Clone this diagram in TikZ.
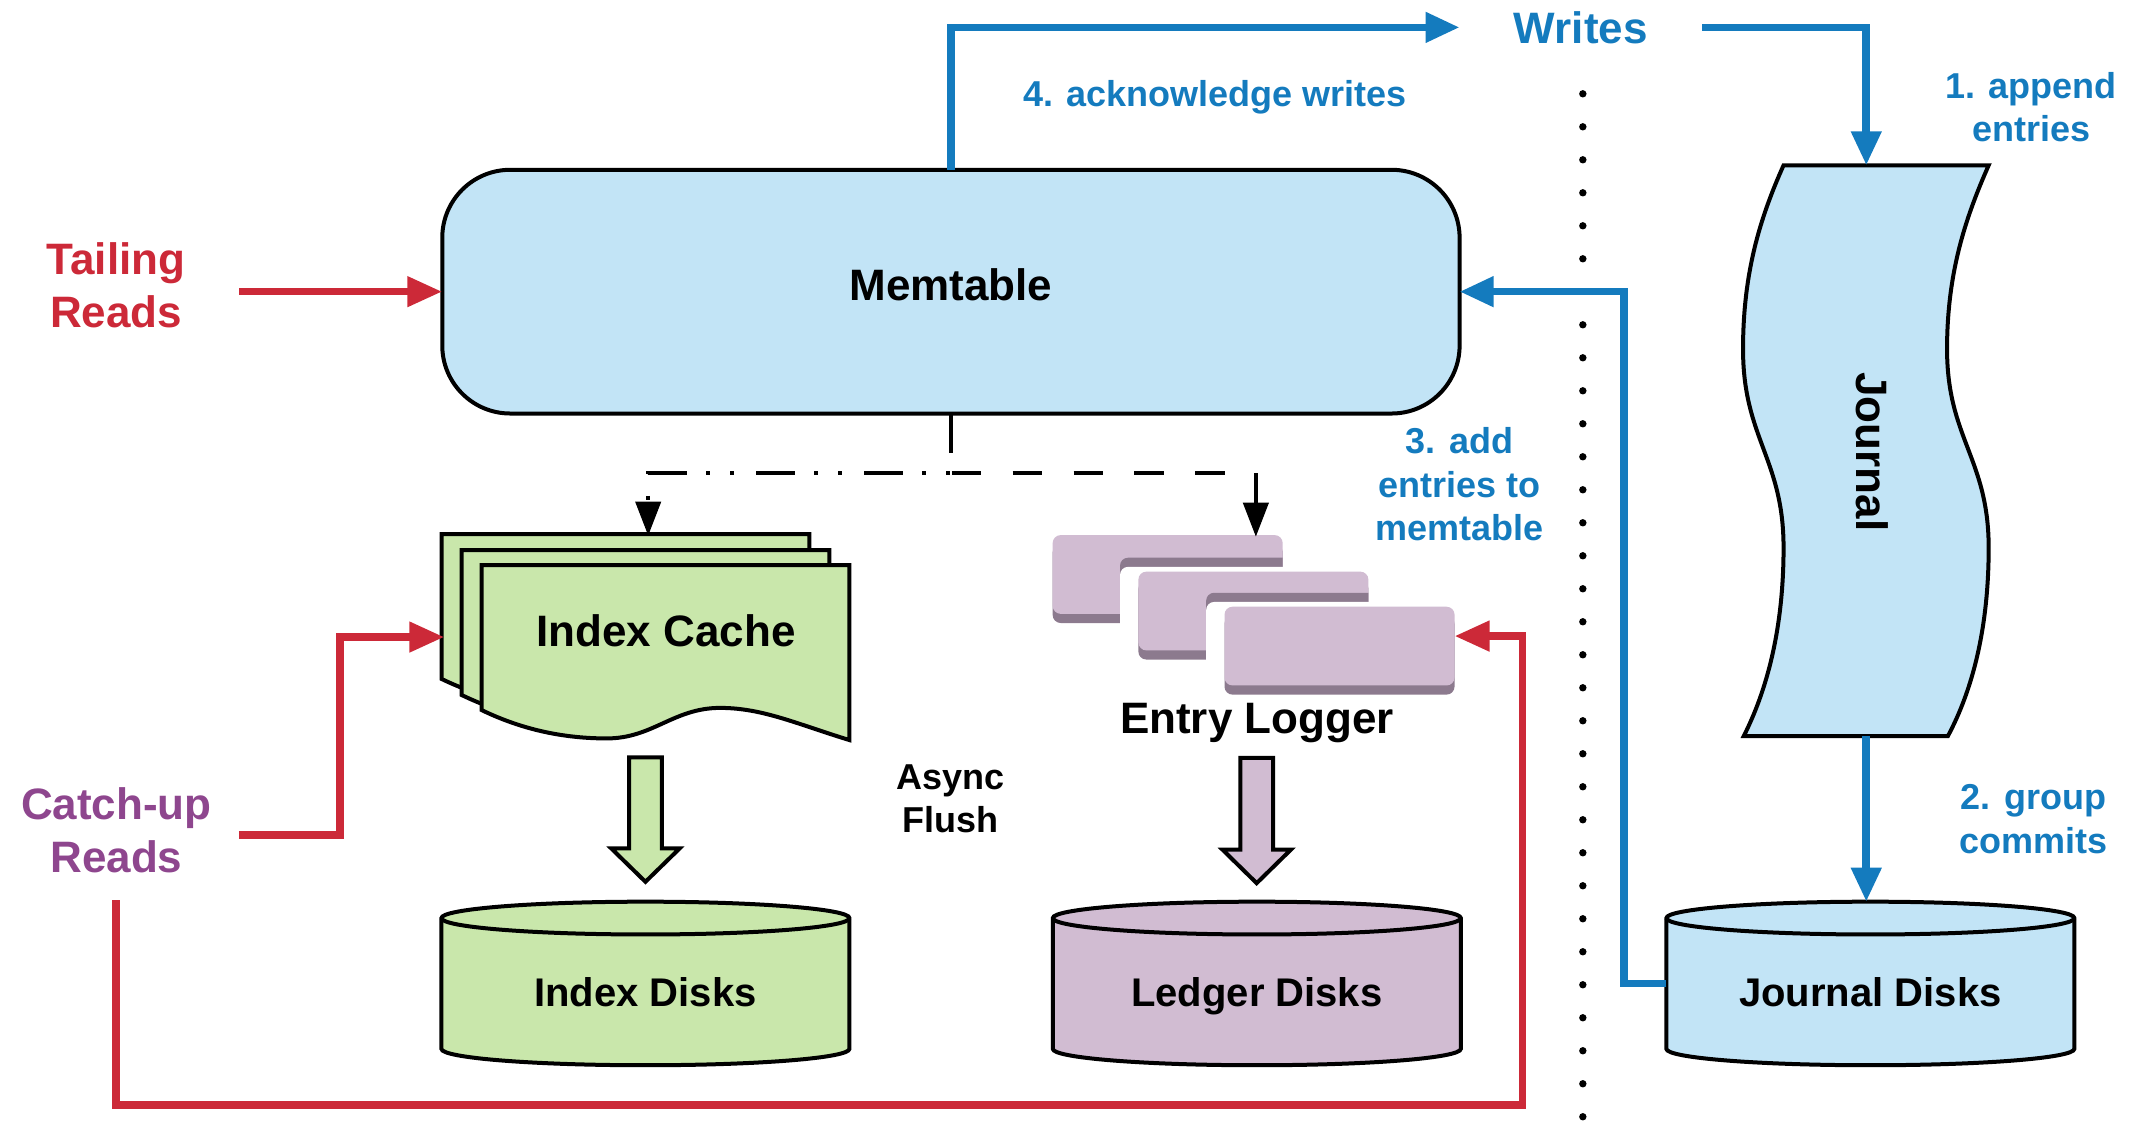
\documentclass[tikz,border=0pt]{standalone}
\usepackage{fontspec}
\setmainfont{Liberation Sans}
\usetikzlibrary{arrows.meta}
\definecolor{memblue}{RGB}{194,228,246}
\definecolor{idxgreen}{RGB}{201,231,171}
\definecolor{logmauve}{RGB}{209,188,210}
\definecolor{loglipc}{RGB}{140,122,142}
\definecolor{wblue}{RGB}{20,123,190}
\definecolor{rred}{RGB}{204,41,56}
\definecolor{cpurple}{RGB}{142,70,142}
\newcommand\pxu{0.6846pt}
\newcommand\diskshape[2]{%
  \filldraw[outl, fill=#2] (#1,670.5) -- (#1,766) arc[start angle=180,end angle=360,x radius=102pt,y radius=8.2pt] -- ++(0,-95.5) arc[start angle=0,end angle=180,x radius=102pt,y radius=8.2pt] -- cycle;
  \draw[outl] (#1,670.5) arc[start angle=180,end angle=360,x radius=102pt,y radius=8.2pt];}
\tikzset{
  bigtxt/.style={font=\fontsize{22pt}{26.7pt}\selectfont\bfseries, align=center, inner sep=0pt},
  lbltxt/.style={font=\fontsize{18pt}{21.9pt}\selectfont\bfseries, align=center, inner sep=0pt, text=wblue},
  disktxt/.style={font=\fontsize{20pt}{24pt}\selectfont\bfseries, inner sep=0pt},
  hidden/.style={inner sep=0pt, outer sep=0pt},
  outl/.style={draw=black, line width=2pt},
  bluearrow/.style={draw=wblue, line width=3.8pt, -{Triangle[length=17pt,width=14.5pt]}},
  redarrow/.style={draw=rred, line width=3.8pt, -{Triangle[length=17.5pt,width=14.5pt]}},
  flowline/.style={draw=black, line width=2pt},
  flowtip/.style={draw=black, fill=black, line width=0.5pt, solid},
  dashdotdot/.style={dash pattern=on 19.5pt off 11pt on 2pt off 10pt on 2pt off 9.5pt},
  longdash/.style={dash pattern=on 14.7pt off 15.7pt},
  logface/.style={fill=logmauve, rounded corners=4pt},
  loglip/.style={fill=loglipc, rounded corners=4pt},
}
\begin{document}
\begin{tikzpicture}[x=0.6846pt, y=-0.6846pt, line join=miter]
\useasboundingbox (0,0) rectangle (1560,830.5);

% ---------- Memtable
\node[outl, fill=memblue, rounded corners=34pt, minimum width=743*\pxu, minimum height=178*\pxu, hidden] (mem) at (694.5,213) {};
\node[bigtxt] (memlbl) at (694.5,208.2) {Memtable};

% ---------- Journal
\filldraw[outl, fill=memblue] (1302.6,120.7) -- (1452.4,120.7)
  .. controls (1435,160) and (1422,200) .. (1422,255)
  .. controls (1422,320) and (1452.4,335) .. (1452.4,400)
  .. controls (1452.4,460) and (1440,505) .. (1422.6,537.6)
  -- (1273.5,537.6)
  .. controls (1290,505) and (1302.6,460) .. (1302.6,400)
  .. controls (1302.6,335) and (1273,320) .. (1273,255)
  .. controls (1273,200) and (1285,160) .. (1302.6,120.7) -- cycle;
\node[hidden, minimum width=150*\pxu, minimum height=417*\pxu] (jourbox) at (1363,329.2) {};
\node[bigtxt, rotate=-90] (jourlbl) at (1367.5,330) {Journal};

% ---------- Index cache (stacked documents)
\foreach \ox/\oy in {322.6/390, 337.2/401.7, 351.8/412.7}{
  \filldraw[outl, fill=idxgreen, shift={(\ox,\oy)}] (0,0) -- (268.6,0) -- (268.6,127.8)
    .. controls (230,116) and (205,104.3) .. (174.2,104.3)
    .. controls (140,104.3) and (125,126.6) .. (91.3,126.6)
    .. controls (55,126.6) and (25,118) .. (0,105.9) -- cycle;
}
\node[hidden, minimum width=297.8*\pxu, minimum height=150.5*\pxu] (icachebox) at (473.4,465.25) {};
\node[bigtxt] (icachelbl) at (486.4,460.8) {Index Cache};

% ---------- Entry logger (stacked slabs)
\fill[loglip] (768.8,397.5) rectangle (936.8,455);
\fill[logface] (768.8,390.8) rectangle (936.8,448.3);
\begin{scope}
  \clip[rounded corners=4pt] (768.8,390.8) rectangle (936.8,448.3);
  \fill[loglip] (818,407.3) rectangle (1005,490);
\end{scope}
\fill[white, rounded corners=4pt] (818,414) rectangle (1005,490);
\fill[loglip] (831.4,424.2) rectangle (999.4,481.7);
\fill[logface] (831.4,417.5) rectangle (999.4,475);
\begin{scope}
  \clip[rounded corners=4pt] (831.4,417.5) rectangle (999.4,475);
  \fill[loglip] (880.9,432.9) rectangle (1068,515);
\end{scope}
\fill[white, rounded corners=4pt] (880.9,439.6) rectangle (1068,515);
\fill[loglip] (894.3,449.8) rectangle (1062.3,507.3);
\fill[logface] (894.3,443.1) rectangle (1062.3,500.6);
\node[hidden, minimum width=293.5*\pxu, minimum height=116.5*\pxu] (elogbox) at (917.2,449.05) {};
\node[hidden, minimum width=168*\pxu, minimum height=64.2*\pxu] (elog3) at (978.3,475.2) {};
\node[bigtxt] (eloglbl) at (918,528.1) {Entry Logger};

% ---------- block arrows
\filldraw[outl, fill=idxgreen] (459.4,553.2) -- (483.4,553.2) -- (483.4,619.6) -- (496.4,619.6) -- (471.4,644) -- (446.4,619.6) -- (459.4,619.6) -- cycle;
\filldraw[outl, fill=logmauve] (905.8,553.5) -- (929.8,553.5) -- (929.8,620.5) -- (942.8,620.5) -- (917.8,645) -- (892.8,620.5) -- (905.8,620.5) -- cycle;
\node[font=\fontsize{18pt}{21.7pt}\selectfont\bfseries, align=center, inner sep=0pt] (async) at (694.3,583.2) {Async\\Flush};

% ---------- disks
\diskshape{322.4}{idxgreen}
\diskshape{768.9}{logmauve}
\diskshape{1217}{memblue}
\node[hidden, minimum width=298*\pxu, minimum height=119.5*\pxu] (idisk) at (471.4,718.25) {};
\node[hidden, minimum width=298*\pxu, minimum height=119.5*\pxu] (ldisk) at (917.9,718.25) {};
\node[hidden, minimum width=298*\pxu, minimum height=119.5*\pxu] (jdisk) at (1366,718.25) {};
\node[disktxt] (idisklbl) at (471.4,724.3) {Index Disks};
\node[disktxt] (ldisklbl) at (917.9,727.4) {Ledger Disks};
\node[disktxt] (jdisklbl) at (1366,724.3) {Journal Disks};

% ---------- dotted separator
\foreach \k in {0,...,31}{\ifnum\k=6\else \fill (1156,{68.5+24.1*\k}) circle[radius=1.85pt];\fi}

% ---------- texts
\node[bigtxt, text=wblue, inner xsep=27pt] (writes) at (1154.5,20) {Writes};
\node[lbltxt] (acklbl) at (887.5,71.4) {4. acknowledge writes};
\node[lbltxt] (applbl) at (1483.5,78.3) {1. append\\entries};
\node[lbltxt] (grplbl) at (1485,598.4) {2. group\\commits};
\node[lbltxt] (addlbl) at (1066,353.6) {3. add\\entries to\\memtable};
\node[bigtxt, text=rred] (tailing) at (84.8,208.2) {Tailing\\Reads};
\node[bigtxt, text=cpurple] (catchup) at (85,606.2) {Catch-up\\Reads};

% ---------- connectors
\draw[flowline, dashdotdot] (mem.south) -- ++(0,43.7) -| ([yshift=14pt]icachebox.north);
\draw[flowline, longdash] (mem.south) -- ++(0,43.7) -| ([yshift=14pt]elogbox.north);
\fill[flowtip] ([xshift=-6.2pt,yshift=16pt]icachebox.north) -- ([xshift=6.2pt,yshift=16pt]icachebox.north) -- (icachebox.north) -- cycle;
\fill[flowtip] ([xshift=-6.2pt,yshift=16pt]elogbox.north) -- ([xshift=6.2pt,yshift=16pt]elogbox.north) -- (elogbox.north) -- cycle;

\draw[bluearrow] (mem.north) |- (writes.west);
\draw[bluearrow] (writes.east) -| (jourbox.north);
\draw[bluearrow] (jourbox.south) -- (jourbox.south |- jdisk.north);
\draw[bluearrow] (jdisk.west) -- ++(-31,0) |- (mem.east);

\coordinate (tailstart) at (174.8,213);
\draw[redarrow] (tailstart) -- (mem.west);
\coordinate (catchright) at (174.5,610);
\draw[redarrow] (catchright) -- ++(74,0) |- (icachebox.west);
\coordinate (catchdown) at (84.5,657.4);
\draw[redarrow] (catchdown) |- (1112,807) |- ([yshift=7.3pt]elog3.east);
\end{tikzpicture}
\end{document}
